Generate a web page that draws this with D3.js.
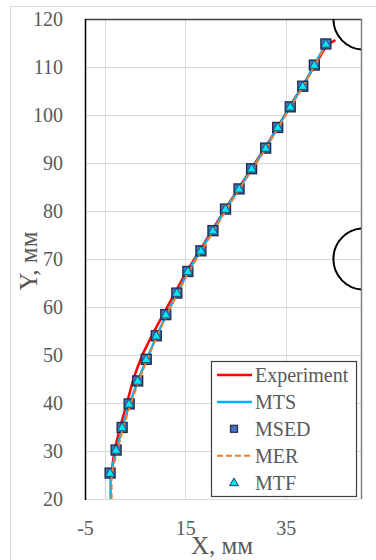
<!DOCTYPE html>
<html>
<head>
<meta charset="utf-8">
<script src="https://cdn.jsdelivr.net/npm/d3@7"></script>
<style>
  body { margin: 0; background: #fff; }
  svg { display: block; }
  text { font-family: "Liberation Serif", "Times New Roman", serif; }
</style>
</head>
<body>
<svg id="chart"></svg>
<script>
'use strict';

// axis ticks
var xTicks = [-5, 15, 35];
var xGrid = [-1, 15, 35];
var yTicks = [20, 30, 40, 50, 60, 70, 80, 90, 100, 110, 120];

// Experiment
var expX = [0.2, 0.9, 2.0, 3.3, 4.6, 5.6, 6.6, 8.3, 10.5, 12.9, 15.3, 17.9, 20.4, 23.0, 25.6, 28.2, 30.9, 33.4, 35.8, 38.4, 40.8, 43.2, 44.9];
var expY = [25.0, 30.2, 35.0, 39.8, 44.8, 47.8, 50.4, 54.0, 58.3, 62.9, 67.5, 71.8, 76.1, 80.5, 84.7, 88.9, 93.2, 97.4, 101.8, 106.1, 110.3, 114.6, 115.6];

// MTS
var mtsX = [0.1, 0.1, 1.3, 2.4, 3.9, 5.5, 7.3, 9.3, 11.2, 13.4, 15.5, 18.0, 20.5, 23.0, 25.7, 28.2, 31.0, 33.4, 35.8, 38.4, 40.7, 43.0];
var mtsY = [20.0, 25.4, 30.2, 34.9, 39.8, 44.6, 49.1, 54.0, 58.4, 62.9, 67.4, 71.7, 75.9, 80.4, 84.6, 88.8, 93.1, 97.4, 101.7, 106.0, 110.4, 114.8];

// MSED (markers)
var msedX = [0.0, 1.2, 2.4, 3.8, 5.5, 7.2, 9.2, 11.1, 13.3, 15.5, 18.1, 20.5, 23.0, 25.7, 28.2, 31.0, 33.4, 35.9, 38.4, 40.7, 43.0];
var msedY = [25.4, 30.2, 34.9, 39.8, 44.6, 49.1, 54.0, 58.4, 62.9, 67.4, 71.7, 75.9, 80.4, 84.6, 88.8, 93.1, 97.4, 101.7, 106.0, 110.4, 114.8];

// MER
var merX = [0.3, 0.3, 1.5, 2.6, 4.1, 5.7, 7.4, 9.4, 11.3, 13.5, 15.7, 18.2, 20.7, 23.2, 25.8, 28.4, 31.1, 33.5, 36.0, 38.5, 40.8, 43.1];
var merY = [20.0, 25.4, 30.2, 34.9, 39.8, 44.6, 49.1, 54.0, 58.4, 62.9, 67.4, 71.7, 75.9, 80.4, 84.6, 88.8, 93.1, 97.4, 101.7, 106.0, 110.4, 114.8];

// MTF (markers)
var mtfX = [0.0, 1.2, 2.4, 3.8, 5.5, 7.2, 9.2, 11.1, 13.3, 15.5, 18.1, 20.5, 23.0, 25.7, 28.2, 31.0, 33.4, 35.9, 38.4, 40.7, 43.0];
var mtfY = [25.4, 30.2, 34.9, 39.8, 44.6, 49.1, 54.0, 58.4, 62.9, 67.4, 71.7, 75.9, 80.4, 84.6, 88.8, 93.1, 97.4, 101.7, 106.0, 110.4, 114.8];

// holes (centre x, centre y, radius in mm)
var holeX = [50.5, 50.5];
var holeY = [120, 70];
var holeR = [6, 6];

var legendNames = ['Experiment', 'MTS', 'MSED', 'MER', 'MTF'];

var W = 376, H = 560;
var plot = {left: 85, right: 361, top: 19, bottom: 499};
var serif = '"Liberation Serif", "Times New Roman", serif';

var svg = d3.select('#chart').attr('width', W).attr('height', H);

// outer chart frame
svg.append('rect')
    .attr('x', 10.5).attr('y', 6.5)
    .attr('width', 380).attr('height', 570)
    .attr('fill', '#fff')
    .attr('stroke', '#d9d9d9');

var x = d3.scaleLinear().domain([-5, 50]).range([plot.left, plot.right]);
var y = d3.scaleLinear().domain([20, 120]).range([plot.bottom, plot.top]);

function zip(xs, ys) {
    return xs.map(function(v, i) { return [v, ys[i]]; });
}

// gridlines
svg.append('g').selectAll('line')
    .data(yTicks.slice(1, -1))
    .enter().append('line')
    .attr('x1', plot.left).attr('x2', plot.right)
    .attr('y1', function(d) { return Math.round(y(d)) + 0.5; })
    .attr('y2', function(d) { return Math.round(y(d)) + 0.5; })
    .attr('stroke', '#d9d9d9').attr('stroke-width', 1);

svg.append('g').selectAll('line')
    .data(xGrid)
    .enter().append('line')
    .attr('y1', plot.top).attr('y2', plot.bottom)
    .attr('x1', function(d) { return Math.round(x(d)) + 0.5; })
    .attr('x2', function(d) { return Math.round(x(d)) + 0.5; })
    .attr('stroke', '#d9d9d9').attr('stroke-width', 1);

// plot borders
svg.append('line').attr('x1', plot.left).attr('x2', plot.right)
    .attr('y1', plot.bottom + 0.5).attr('y2', plot.bottom + 0.5)
    .attr('stroke', '#d9d9d9');
svg.append('line').attr('x1', plot.left).attr('x2', plot.right + 1)
    .attr('y1', plot.top + 0.5).attr('y2', plot.top + 0.5)
    .attr('stroke', '#404040').attr('stroke-width', 1.5);
svg.append('line').attr('x1', plot.right + 0.5).attr('x2', plot.right + 0.5)
    .attr('y1', plot.top).attr('y2', plot.bottom)
    .attr('stroke', '#808080').attr('stroke-width', 1.5);
svg.append('line').attr('x1', plot.left + 0.5).attr('x2', plot.left + 0.5)
    .attr('y1', plot.top).attr('y2', plot.bottom + 1)
    .attr('stroke', '#000').attr('stroke-width', 1.5);

// clip for the data
svg.append('clipPath').attr('id', 'clip')
    .append('rect')
    .attr('x', plot.left).attr('y', plot.top)
    .attr('width', plot.right - plot.left).attr('height', plot.bottom - plot.top);

var data = svg.append('g').attr('clip-path', 'url(#clip)');

// holes
data.selectAll('ellipse')
    .data(holeX.map(function(d, i) { return {x: d, y: holeY[i], r: holeR[i]}; }))
    .enter().append('ellipse')
    .attr('cx', function(d) { return x(d.x); })
    .attr('cy', function(d) { return y(d.y); })
    .attr('rx', function(d) { return x(d.x + d.r) - x(d.x); })
    .attr('ry', function(d) { return y(d.y) - y(d.y + d.r * 1.06); })
    .attr('fill', 'none')
    .attr('stroke', '#000')
    .attr('stroke-width', 2);

var line = d3.line()
    .x(function(d) { return x(d[0]); })
    .y(function(d) { return y(d[1]); });

data.append('path').datum(zip(expX, expY))
    .attr('d', line).attr('fill', 'none')
    .attr('stroke', '#ff0000').attr('stroke-width', 2.5);

data.append('path').datum(zip(mtsX, mtsY))
    .attr('d', line).attr('fill', 'none')
    .attr('stroke', '#00b0f0').attr('stroke-width', 2.5);

// MSED squares
var sq = 10;
data.append('g').selectAll('rect')
    .data(zip(msedX, msedY))
    .enter().append('rect')
    .attr('x', function(d) { return x(d[0]) - sq / 2; })
    .attr('y', function(d) { return y(d[1]) - sq / 2; })
    .attr('width', sq).attr('height', sq)
    .attr('fill', '#4472c4')
    .attr('stroke', '#1f2a44').attr('stroke-width', 1.3);

data.append('path').datum(zip(merX, merY))
    .attr('d', line).attr('fill', 'none')
    .attr('stroke', '#ed7d31').attr('stroke-width', 2)
    .attr('stroke-dasharray', '6,3');

// MTF triangles
var tri = d3.symbol().type(d3.symbolTriangle).size(38);
data.append('g').selectAll('path')
    .data(zip(mtfX, mtfY))
    .enter().append('path')
    .attr('d', tri)
    .attr('transform', function(d) { return 'translate(' + x(d[0]) + ',' + (y(d[1]) + 0.5) + ')'; })
    .attr('fill', '#00e8f8')
    .attr('stroke', '#1f3a5a').attr('stroke-width', 0.8);

// axes
var yAxis = svg.append('g')
    .attr('transform', 'translate(' + plot.left + ',0)')
    .call(d3.axisLeft(y).tickValues(yTicks).tickSize(0).tickPadding(22).tickFormat(function(d) { return String(d); }));
yAxis.select('.domain').remove();
yAxis.attr('font-family', serif);
yAxis.selectAll('text').style('font-family', serif).style('font-size', '20px').attr('fill', '#595959');

var xAxis = svg.append('g')
    .attr('transform', 'translate(0,' + plot.bottom + ')')
    .call(d3.axisBottom(x).tickValues(xTicks).tickSize(0).tickFormat(function(d) { return String(d); }));
xAxis.select('.domain').remove();
xAxis.attr('font-family', serif);
xAxis.selectAll('text').attr('y', 29).attr('dy', '0.35em')
    .style('font-family', serif).style('font-size', '20px').attr('fill', '#595959');

// axis titles
svg.append('text')
    .attr('x', 222).attr('y', 554)
    .attr('text-anchor', 'middle')
    .style('font-family', serif)
    .style('font-size', '25px')
    .attr('fill', '#595959')
    .text('X, мм');

svg.append('text')
    .attr('transform', 'translate(37,261) rotate(-90)')
    .attr('text-anchor', 'middle')
    .style('font-family', serif)
    .style('font-size', '25px')
    .attr('fill', '#595959')
    .text('Y, мм');

// legend
var legend = svg.append('g').attr('transform', 'translate(211,361)');
legend.append('rect')
    .attr('x', 0.5).attr('y', 0.5)
    .attr('width', 145).attr('height', 135)
    .attr('fill', '#fff').attr('stroke', '#404040').attr('stroke-width', 1.2);

var item = legend.selectAll('g.item')
    .data(legendNames)
    .enter().append('g')
    .attr('class', 'item')
    .attr('transform', function(d, i) { return 'translate(0,' + (14 + i * 26.9) + ')'; });

item.append('text')
    .attr('x', 44).attr('y', 0).attr('dy', '0.35em')
    .style('font-family', serif)
    .style('font-size', '20px')
    .attr('fill', '#595959')
    .text(function(d) { return d; });

item.each(function(d) {
    var g = d3.select(this);
    if (d === 'Experiment' || d === 'MTS' || d === 'MER') {
        g.append('line').attr('x1', 6).attr('x2', 41).attr('y1', 0).attr('y2', 0)
            .attr('stroke', d === 'Experiment' ? '#ff0000' : d === 'MTS' ? '#00b0f0' : '#ed7d31')
            .attr('stroke-width', d === 'MER' ? 2 : 2.5)
            .attr('stroke-dasharray', d === 'MER' ? '6,3' : null);
    } else if (d === 'MSED') {
        g.append('rect').attr('x', 19.5).attr('y', -3.5).attr('width', 7).attr('height', 7)
            .attr('fill', '#4472c4').attr('stroke', '#1f2a44').attr('stroke-width', 1.2);
    } else {
        g.append('path').attr('d', d3.symbol().type(d3.symbolTriangle).size(34))
            .attr('transform', 'translate(23,0.5)')
            .attr('fill', '#00e8f8').attr('stroke', '#1f3a5a').attr('stroke-width', 1);
    }
});
</script>
</body>
</html>
